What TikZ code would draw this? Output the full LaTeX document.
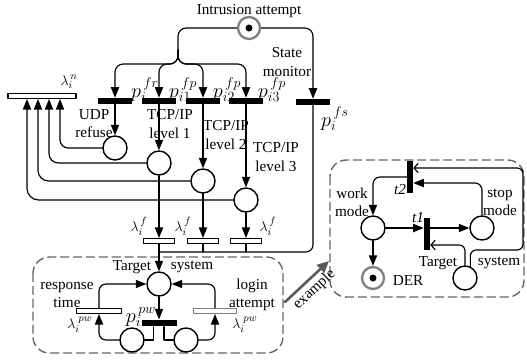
\documentclass[tikz,border=0pt]{standalone}
\usepackage{fontspec}
\setmainfont{Liberation Serif}
\usetikzlibrary{arrows.meta}

\begin{document}
\begin{tikzpicture}[x=0.03cm,y=-0.03cm,line cap=round,line join=round,line width=1pt,
  font=\fontsize{13}{15.5}\selectfont,
  place/.style={circle,draw,line width=1.2pt,minimum size=0.72cm,inner sep=0pt},
  marked/.style={circle,draw=gray,line width=2pt,minimum size=0.66cm,inner sep=0pt},
  hbar/.style={fill=black,minimum width=1.02cm,minimum height=0.16cm,inner sep=0pt},
  wbar/.style={draw,fill=white,line width=0.9pt,minimum width=0.93cm,minimum height=0.15cm,inner sep=0pt},
  vbar/.style={fill=black,minimum width=0.16cm,minimum height=0.94cm,inner sep=0pt},
  plabel/.style={font=\fontsize{18}{20}\selectfont,inner sep=0pt},
  arc/.style={-{Triangle[length=9pt,width=7pt]}},
  barb/.style={-{Straight Barb[length=3.5pt,width=8pt]}},
  group/.style={draw=gray!80!black,line width=1.2pt,dash pattern=on 7pt off 4pt,rounded corners=14pt}]
  \useasboundingbox (0,0) rectangle (527,359);

  % dashed groups
  \draw[group] (33,257) rectangle (283,353);
  \draw[group] (330,160) rectangle (524,297);

  % intrusion attempt
  \node[marked] (intr) at (249,28) {};
  \fill (intr.center) circle[radius=3.5];
  \node (lintr) at (249,11) {Intrusion attempt};

  % transitions
  \node[hbar] (tfr) at (115,101) {};
  \node[hbar] (ti1) at (159,101) {};
  \node[hbar] (ti2) at (203,101) {};
  \node[hbar] (ti3) at (246,101) {};
  \node[hbar] (tfs) at (313,102) {};
  \node[wbar,minimum width=2.04cm] (ln) at (42,96) {};

  % places
  \node[place] (udp) at (115,148) {};
  \node[place] (lv1) at (159,163) {};
  \node[place] (lv2) at (203,181) {};
  \node[place] (lv3) at (246,200) {};

  \node[wbar] (lf1) at (159,241) {};
  \node[wbar] (lf2) at (203,241) {};
  \node[wbar] (lf3) at (246,241) {};
  \coordinate (jn) at (159,252);

  % labels
  \node (lln) at (69,82) {$\lambda_i^{\,n}$};
  \node[plabel] (lpfr) at (145,90) {$p_i^{\,fr}$};
  \node[plabel] (lpi1) at (183,90) {$p_{i1}^{\,fp}$};
  \node[plabel] (lpi2) at (227,90) {$p_{i2}^{\,fp}$};
  \node[plabel] (lpi3) at (272,90) {$p_{i3}^{\,fp}$};
  \node[plabel] (lpfs) at (335,119) {$p_i^{\,fs}$};
  \node[align=center] (lsm) at (287,62) {State\\monitor};
  \node[align=center] (ludp) at (94,124) {UDP\\refuse};
  \node[align=center] (llv1) at (170,124) {TCP/IP\\level 1};
  \node[align=center] (llv2) at (226,135) {TCP/IP\\level 2};
  \node[align=center] (llv3) at (276,157) {TCP/IP\\level 3};
  \node (llf1) at (139,226) {$\lambda_i^{\,f}$};
  \node (llf2) at (183,226) {$\lambda_i^{\,f}$};
  \node (llf3) at (268,226) {$\lambda_i^{\,f}$};

  % top arcs
  \draw[arc,rounded corners=7pt] (intr.west) -| (178,64) -| (tfr.north);
  \draw[arc,rounded corners=7pt] (178,50) -- (178,64) -| (ti1.north);
  \draw[arc,rounded corners=7pt] (178,50) -- (178,64) -| (ti2.north);
  \draw[arc,rounded corners=7pt] (178,50) -- (178,64) -| (ti3.north);
  \draw[arc,rounded corners=7pt] (intr.east) -| (tfs.north);

  \draw[arc] (tfr) -- (udp);
  \draw[arc] (ti1) -- (lv1);
  \draw[arc] (ti2) -- (lv2);
  \draw[arc] (ti3) -- (lv3);

  % feedback to lambda n
  \draw[arc,rounded corners=7pt] (udp.west) -| ([xshift=0.54cm]ln.south);
  \draw[arc,rounded corners=8pt] (lv1.west) -| ([xshift=0.21cm]ln.south);
  \draw[arc,rounded corners=9pt] (lv2.west) -| ([xshift=-0.12cm]ln.south);
  \draw[arc,rounded corners=10pt] (lv3.west) -| ([xshift=-0.45cm]ln.south);

  \draw[arc] (lv1) -- (lf1);
  \draw[arc] (lv2) -- (lf2);
  \draw[arc] (lv3) -- (lf3);
  \draw[rounded corners=6pt] (tfs.south) |- (jn);
  \draw (lf2.south) -- (lf2.south |- jn);
  \draw (lf3.south) -- (lf3.south |- jn);

  % target system group
  \node[place] (tgt) at (159,284) {};
  \node[wbar,minimum width=1.35cm] (resp) at (99,311) {};
  \node[wbar,draw=gray,minimum width=1.29cm] (login) at (215,311) {};
  \node[hbar,minimum width=1.05cm,minimum height=0.18cm] (tpw) at (159,323) {};
  \node[place] (ppl) at (132,340) {};
  \node[place] (ppr) at (186,340) {};
  \node (ltgt) at (132,267) {Target};
  \node (lsys) at (192,267) {system};
  \node[align=center] (lresp) at (67,295) {response\\time};
  \node[align=center] (llog) at (252,295) {login\\attempt};
  \node (lrpw) at (80,325) {$\lambda_i^{\;pw}$};
  \node (llpw) at (245,325) {$\lambda_i^{\;pw}$};
  \node[plabel] (lppw) at (141,317) {$p_i^{\,pw}$};

  \draw[arc] (lf1) -- (tgt);
  \draw[arc] (tgt) -- (tpw);
  \draw ([xshift=-0.17cm]tpw.south) |- (ppl.east);
  \draw ([xshift=0.15cm]tpw.south) |- (ppr.west);
  \draw[arc,rounded corners=6pt] (ppl.west) -| (resp.south);
  \draw[arc,rounded corners=6pt] (resp.north) |- (tgt.west);
  \draw[arc,rounded corners=6pt] (ppr.east) -| (login.south);
  \draw[arc,rounded corners=6pt] (login.north) |- (tgt.east);

  % example arrow
  \draw[gray!70!black,line width=2.2pt,-{Triangle[length=10pt,width=9pt]}] (285,302) -- (329,261)
    node[midway,below,sloped,black,yshift=1pt] (lex) {example};

  % example net
  \node[vbar] (t2) at (410,177) {};
  \node[vbar] (t1) at (427,234) {};
  \node[place] (work) at (373,228) {};
  \node[place] (stop) at (482,228) {};
  \node[place] (sys) at (465,278) {};
  \node[marked] (der) at (373,278) {};
  \fill (der.center) circle[radius=3.5];
  \coordinate (cr) at (523,250);

  \node[align=center] (lwork) at (352,202) {work\\mode};
  \node[align=center] (lstop) at (500,202) {stop\\mode};
  \node (lt2) at (400,190) {\textit{t2}};
  \node (lt1) at (418,218) {\textit{t1}};
  \node (lt) at (438,263) {Target};
  \node (ls) at (499,263) {system};
  \node (lder) at (408,281) {DER};

  \draw[arc,rounded corners=6pt] (t2.west) -| (work.north);
  \draw[arc] (work.east) -- (work.east -| t1.west);
  \draw[arc] (t1.east |- stop.west) -- (stop.west);
  \draw[arc] (work) -- (der);
  \draw[arc,rounded corners=6pt] (stop.north) |- ([yshift=-0.18cm]t2.east);
  \draw[barb,rounded corners=5pt] (sys.north) |- ([yshift=-0.33cm]t1.east);
  \draw[barb,rounded corners=5pt] (sys.65) |- (cr) |- ([yshift=0.27cm]t2.east);
\end{tikzpicture}
\end{document}
